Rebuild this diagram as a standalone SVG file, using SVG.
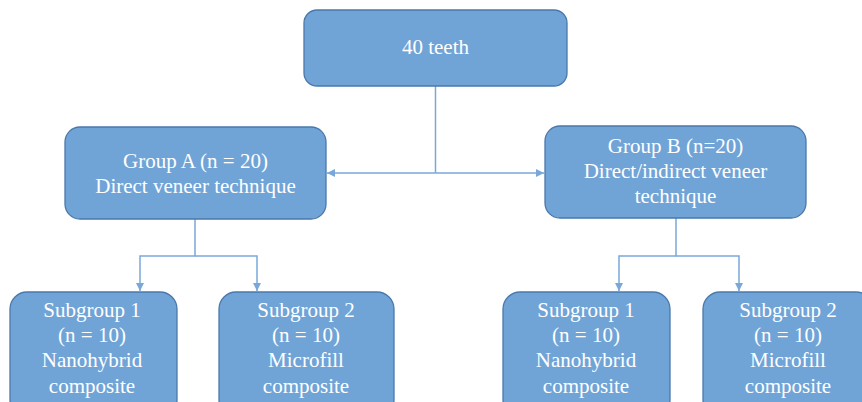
<svg xmlns="http://www.w3.org/2000/svg" width="862" height="402" viewBox="0 0 862 402">
<style>
.box{fill:#70A4D7;stroke:#4A78AC;stroke-width:1.3}
.t{font-family:"Liberation Serif","Times New Roman",serif;font-size:21px;fill:#FFFFFF;text-anchor:middle}
.c{fill:none;stroke:#78A8DA;stroke-width:1.5}
</style>
<defs>
<marker id="ah" viewBox="0 0 10 10" refX="10" refY="5" markerWidth="8" markerHeight="8" markerUnits="userSpaceOnUse" orient="auto">
<path d="M0,0 L10,5 L0,10 Z" fill="#78A8DA"/>
</marker>
</defs>
<rect width="862" height="402" fill="#FFFFFF"/>
<g id="connectors">
<path class="c" d="M435.5,86 V173"/>
<path class="c" d="M435.5,173 H327" marker-end="url(#ah)"/>
<path class="c" d="M435.5,173 H544" marker-end="url(#ah)"/>
<path class="c" d="M195,219 V256 H140 V291" marker-end="url(#ah)"/>
<path class="c" d="M195,256 H257 V291" marker-end="url(#ah)"/>
<path class="c" d="M676,218 V256 H619 V291" marker-end="url(#ah)"/>
<path class="c" d="M676,256 H739 V291" marker-end="url(#ah)"/>
</g>
<g id="n40">
<rect class="box" x="304" y="10" width="263" height="76" rx="13"/>
<text class="t" x="435.5" y="54">40 teeth</text>
</g>
<g id="groupA">
<rect class="box" x="65" y="127" width="261" height="92" rx="15"/>
<text class="t" x="195.5" y="168">Group A (n = 20)</text>
<text class="t" x="195.5" y="193">Direct veneer technique</text>
</g>
<g id="groupB">
<rect class="box" x="545" y="126" width="261" height="92" rx="15"/>
<text class="t" x="675.5" y="153">Group B (n=20)</text>
<text class="t" x="675.5" y="178">Direct/indirect veneer</text>
<text class="t" x="675.5" y="203">technique</text>
</g>
<g id="subA1">
<rect class="box" x="10" y="292" width="167" height="125" rx="17"/>
<text class="t" x="92" y="317">Subgroup 1</text>
<text class="t" x="92" y="342">(n = 10)</text>
<text class="t" x="92" y="367">Nanohybrid</text>
<text class="t" x="92" y="393">composite</text>
</g>
<g id="subA2">
<rect class="box" x="219" y="292" width="175" height="125" rx="17"/>
<text class="t" x="306" y="317">Subgroup 2</text>
<text class="t" x="306" y="342">(n = 10)</text>
<text class="t" x="306" y="367">Microfill</text>
<text class="t" x="306" y="393">composite</text>
</g>
<g id="subB1">
<rect class="box" x="503" y="292" width="167" height="125" rx="17"/>
<text class="t" x="586" y="317">Subgroup 1</text>
<text class="t" x="586" y="342">(n = 10)</text>
<text class="t" x="586" y="367">Nanohybrid</text>
<text class="t" x="586" y="393">composite</text>
</g>
<g id="subB2">
<rect class="box" x="703" y="292" width="170" height="125" rx="17"/>
<text class="t" x="788" y="317">Subgroup 2</text>
<text class="t" x="788" y="342">(n = 10)</text>
<text class="t" x="788" y="367">Microfill</text>
<text class="t" x="788" y="393">composite</text>
</g>
</svg>
